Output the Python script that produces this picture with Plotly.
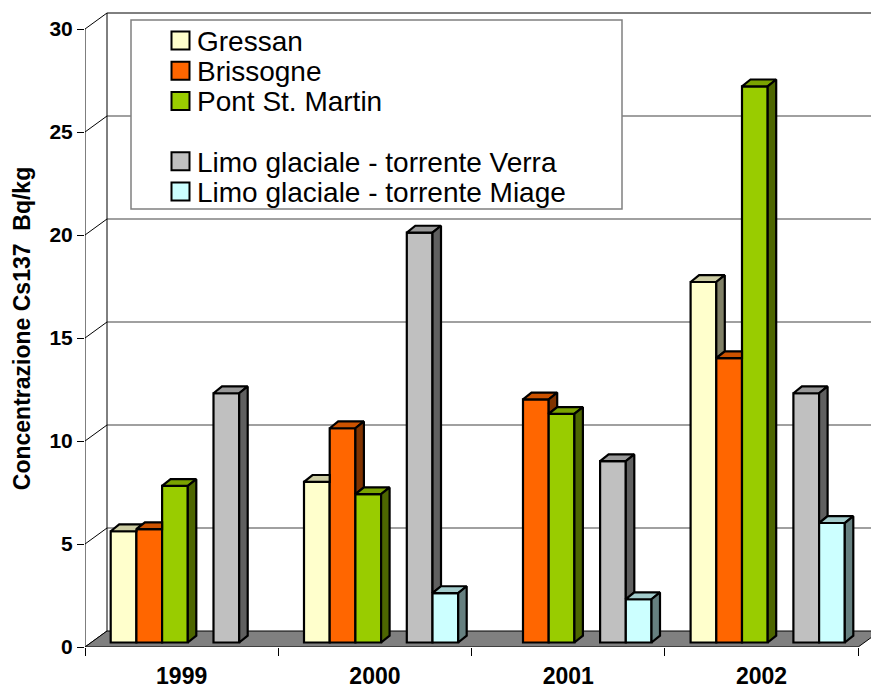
import plotly.graph_objects as go

# ---- data -------------------------------------------------------------
years = ["1999", "2000", "2001", "2002"]
series_names = [
    "Gressan",
    "Brissogne",
    "Pont St. Martin",
    "",  # spacer series (empty slot and empty legend row)
    "Limo glaciale - torrente Verra",
    "Limo glaciale - torrente Miage",
]
gressan = [5.4, 7.8, None, 17.5]
brissogne = [5.5, 10.4, 11.8, 13.8]
pont_st_martin = [7.6, 7.2, 11.1, 27.0]
spacer = [None, None, None, None]
limo_verra = [12.1, 19.9, 8.8, 12.1]
limo_miage = [None, 2.4, 2.1, 5.8]
series_values = [gressan, brissogne, pont_st_martin, spacer, limo_verra, limo_miage]
y_ticks = [0, 5, 10, 15, 20, 25, 30]

# ---- styles -----------------------------------------------------------
front_colors = ["#FFFFCC", "#FF6600", "#99CC00", None, "#C0C0C0", "#CCFFFF"]
top_colors = ["#CCCCA3", "#CC5200", "#7AA300", None, "#999999", "#A3CCCC"]
side_colors = ["#808066", "#803300", "#4D6600", None, "#606060", "#668080"]
FONT = "Liberation Sans, Arial, sans-serif"

W, H = 871, 688
PLOT_L, PLOT_R, PLOT_T, PLOT_B = 85, 871, 10, 647
PX_PER_CAT = 193.3
PX_PER_VAL = 20.6
X_MIN = -0.5
X_MAX = X_MIN + (PLOT_R - PLOT_L) / PX_PER_CAT
Y_MAX = (PLOT_B - PLOT_T) / PX_PER_VAL


def cx(px):
    return px / PX_PER_CAT


def vy(px):
    return px / PX_PER_VAL


def paper_x(px):
    return (px - PLOT_L) / (PLOT_R - PLOT_L)


def paper_y(py):
    return (PLOT_B - py) / (PLOT_B - PLOT_T)


# oblique projection offsets (3-D look)
WALL_DX, WALL_DY = cx(22), vy(16)
BAR_SHIFT_X, BAR_SHIFT_Y = cx(6.2), vy(4.5)
DEPTH_X, DEPTH_Y = cx(8.5), vy(6.8)
BAR_W = cx(25.7)
GAP = cx(19.5)
SLOPE = DEPTH_Y / DEPTH_X

fig = go.Figure()

# ---- walls and floor ----------------------------------------------------
shapes = []
x_left, x_right = X_MIN, 3.5
for v in y_ticks[1:-1]:
    shapes.append(dict(type="line", xref="x", yref="y", layer="below",
                       x0=x_left + WALL_DX, y0=v + WALL_DY,
                       x1=x_right + WALL_DX, y1=v + WALL_DY,
                       line=dict(color="#808080", width=1.3)))
shapes.append(dict(type="line", xref="x", yref="y", layer="below",
                   x0=x_left + WALL_DX, y0=y_ticks[-1] + WALL_DY,
                   x1=x_right + WALL_DX, y1=y_ticks[-1] + WALL_DY,
                   line=dict(color="black", width=1)))
shapes.append(dict(type="line", xref="x", yref="y", layer="below",
                   x0=x_left + WALL_DX, y0=WALL_DY,
                   x1=x_left + WALL_DX, y1=y_ticks[-1] + WALL_DY,
                   line=dict(color="black", width=1)))
for v in y_ticks:
    shapes.append(dict(type="line", xref="x", yref="y", layer="below",
                       x0=x_left, y0=v, x1=x_left + WALL_DX, y1=v + WALL_DY,
                       line=dict(color="black", width=1)))
shapes.append(dict(type="line", xref="x", yref="y", layer="below",
                   x0=x_left, y0=0, x1=x_left, y1=y_ticks[-1],
                   line=dict(color="black", width=1)))
floor_path = "M {a},{b} L {c},{b} L {d},{e} L {f},{e} Z".format(
    a=x_left, b=0, c=x_right, d=x_right + WALL_DX, e=WALL_DY, f=x_left + WALL_DX)
shapes.append(dict(type="path", xref="x", yref="y", layer="below", path=floor_path,
                   fillcolor="#808080", line=dict(color="black", width=1)))

# ---- bars: front faces --------------------------------------------------
x_pos = list(range(len(years)))
slot_offset = [X_MIN + BAR_SHIFT_X + GAP + k * BAR_W for k in range(len(series_names))]

for k, (name, vals) in enumerate(zip(series_names, series_values)):
    if all(v is None for v in vals):
        continue
    fig.add_trace(go.Bar(
        x=x_pos, y=vals, base=BAR_SHIFT_Y, offset=slot_offset[k], width=BAR_W,
        name=name, showlegend=False,
        marker=dict(color=front_colors[k], line=dict(color="black", width=2.2)),
        hovertemplate=name + " %{x}: %{y}<extra></extra>",
    ))

# ---- bars: visible top and side faces ----------------------------------
for k, vals in enumerate(series_values):
    if all(v is None for v in vals):
        continue
    nxt = series_values[k + 1] if k + 1 < len(series_values) else [None] * len(years)
    tx, ty, sx, sy = [], [], [], []
    for c, v in enumerate(vals):
        if v is None:
            continue
        L = c + slot_offset[k]
        R = L + BAR_W
        b = BAR_SHIFT_Y
        h = b + v
        hn = None if nxt[c] is None else b + nxt[c]
        # top face
        if hn is None or hn <= h:
            poly = [(L, h), (R, h), (R + DEPTH_X, h + DEPTH_Y), (L + DEPTH_X, h + DEPTH_Y)]
        else:
            poly = [(L, h), (R, h), (R, min(hn, h + DEPTH_Y))]
            if hn < h + DEPTH_Y:
                poly.append((R + (h + DEPTH_Y - hn) / SLOPE, h + DEPTH_Y))
            poly.append((L + DEPTH_X, h + DEPTH_Y))
        poly.append(poly[0])
        tx += [p[0] for p in poly] + [None]
        ty += [p[1] for p in poly] + [None]
        # side face
        side = None
        if hn is None:
            side = [(R, b), (R + DEPTH_X, b + DEPTH_Y), (R + DEPTH_X, h + DEPTH_Y), (R, h)]
        elif hn < h:
            side = [(R, hn), (R + DEPTH_X, hn + DEPTH_Y), (R + DEPTH_X, h + DEPTH_Y), (R, h)]
        if side:
            side.append(side[0])
            sx += [p[0] for p in side] + [None]
            sy += [p[1] for p in side] + [None]
    fig.add_trace(go.Scatter(x=tx, y=ty, mode="lines", fill="toself",
                             fillcolor=top_colors[k], line=dict(color="black", width=2.2),
                             hoverinfo="skip", showlegend=False))
    if sx:
        fig.add_trace(go.Scatter(x=sx, y=sy, mode="lines", fill="toself",
                                 fillcolor=side_colors[k], line=dict(color="black", width=2.2),
                                 hoverinfo="skip", showlegend=False))

# ---- legend box --------------------------------------------------------
annotations = []
shapes.append(dict(type="rect", xref="paper", yref="paper", layer="above",
                   x0=paper_x(131), x1=paper_x(622), y0=paper_y(209), y1=paper_y(20),
                   fillcolor="white", line=dict(color="#808080", width=1.5)))
row_y0, row_step = 40.5, 30.2
for k, name in enumerate(series_names):
    yc = row_y0 + k * row_step
    if not name:
        continue
    shapes.append(dict(type="rect", xref="paper", yref="paper", layer="above",
                       x0=paper_x(171.5), x1=paper_x(189.5),
                       y0=paper_y(yc + 9), y1=paper_y(yc - 9),
                       fillcolor=front_colors[k], line=dict(color="black", width=2)))
    annotations.append(dict(xref="paper", yref="paper", x=paper_x(195), y=paper_y(yc + 1),
                            xanchor="left", yanchor="middle", showarrow=False, text=name,
                            font=dict(family=FONT, size=28, color="black")))

fig.update_layout(
    width=W, height=H,
    margin=dict(l=PLOT_L, r=W - PLOT_R, t=PLOT_T, b=H - PLOT_B, autoexpand=False),
    paper_bgcolor="white", plot_bgcolor="white",
    barmode="overlay",
    showlegend=False,
    shapes=shapes,
    annotations=annotations,
    xaxis=dict(
        type="linear", range=[X_MIN, X_MAX], automargin=False,
        tickvals=x_pos, ticktext=years, ticks="",
        tickfont=dict(family=FONT, size=23, color="black", weight="bold"),
        ticklabelstandoff=13,
        showgrid=False, zeroline=False, showline=False,
        minor=dict(tickvals=[X_MIN + i for i in range(len(years) + 1)],
                   ticks="outside", ticklen=8, tickcolor="black", tickwidth=1,
                   showgrid=False),
    ),
    yaxis=dict(
        range=[0, Y_MAX], automargin=False,
        tickvals=y_ticks, ticks="outside", ticklen=7, tickcolor="black", tickwidth=1,
        tickfont=dict(family=FONT, size=21, color="black", weight="bold"),
        showgrid=False, zeroline=False, showline=False,
        title=dict(text="Concentrazione Cs137 \u00a0Bq/kg", standoff=12,
                   font=dict(family=FONT, size=23, color="black", weight="bold")),
    ),
)

fig.write_html("out.html")
